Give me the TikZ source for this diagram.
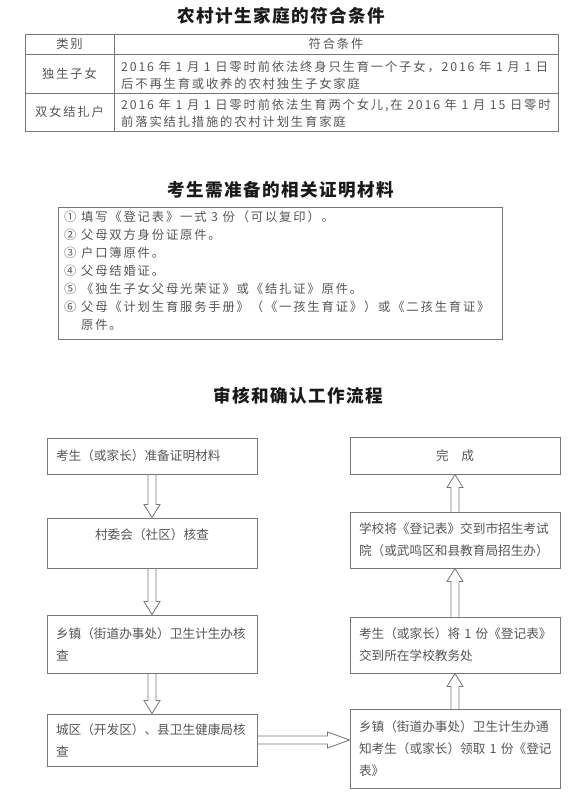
\documentclass[tikz,border=0pt]{standalone}
\usepackage{fontspec}
\setmainfont{Noto Sans CJK SC}
\newfontfamily\spacedcjk[LetterSpace=15]{Noto Sans CJK SC}
\newfontfamily\titlecjk[LetterSpace=8]{Noto Sans CJK SC}
\usepackage{tikz}
\usetikzlibrary{calc}
\definecolor{bodygray}{HTML}{555555}
\definecolor{linegray}{HTML}{767676}
\definecolor{titleblack}{HTML}{1A1A1A}

% hollow block arrow: [head length]{from}{to}
\newcommand{\hollowarrow}[3][0.39cm]{%
  \coordinate (arrowbase) at ($(#3)!#1!(#2)$);
  \draw[flowarrow] ($(#2)!0.12cm!90:(#3)$) -- ($(arrowbase)!0.12cm!90:(#3)$)
    -- ($(arrowbase)!0.24cm!90:(#3)$) -- (#3)
    -- ($(arrowbase)!0.24cm!-90:(#3)$) -- ($(arrowbase)!0.12cm!-90:(#3)$)
    -- ($(#2)!0.12cm!-90:(#3)$);}

\begin{document}
\begin{tikzpicture}[
  title/.style={font=\titlecjk\bfseries\fontsize{15}{18}\selectfont, text=titleblack},
  celltext/.style={font=\spacedcjk\fontsize{10.5}{14.5}\selectfont, text=bodygray, align=left, inner sep=0pt},
  tableline/.style={draw=linegray, line width=0.6pt},
  flowbox/.style={draw=linegray, line width=0.8pt, text width=5.76cm, inner xsep=0.27cm,
    font=\fontsize{10.8}{18.7}\selectfont, text=bodygray},
  leftbox/.style={flowbox, align=left},
  centerbox/.style={flowbox, align=center},
  flowarrow/.style={draw=linegray, line width=0.7pt, line join=miter},
]
\useasboundingbox (0,0) rectangle (17.55,-24.15);

% Table
\node[title] (condtitle) at (8.43,-0.48) {农村计生家庭的符合条件};
\draw[tableline] (0.75,-1.02) rectangle (16.74,-3.93);
\draw[tableline] (0.75,-1.62) -- (16.74,-1.62);
\draw[tableline] (0.75,-2.79) -- (16.74,-2.79);
\draw[tableline] (3.42,-1.02) -- (3.42,-3.93);
\node[celltext] (typehead) at (2.085,-1.32) {类别};
\node[celltext] (condhead) at (10.08,-1.32) {符合条件};
\node[celltext] (onlytype) at (2.085,-2.22) {独生子女};
\node[celltext, anchor=west] (onlycond) at (3.63,-2.25) {2016 年 1 月 1 日零时前依法终身只生育一个子女，2016 年 1 月 1 日\\后不再生育或收养的农村独生子女家庭};
\node[celltext] (twotype) at (2.085,-3.36) {双女结扎户};
\node[celltext, anchor=west] (twocond) at (3.63,-3.40) {2016 年 1 月 1 日零时前依法生育两个女儿,在 2016 年 1 月 15 日零时\\前落实结扎措施的农村计划生育家庭};

% Materials
\node[title] (doctitle) at (8.43,-5.70) {考生需准备的相关证明材料};
\draw[tableline, line width=0.8pt] (1.74,-6.21) rectangle (15.06,-10.17);
\node[celltext, anchor=west, font=\spacedcjk\fontsize{10.5}{15.3}\selectfont] (doclist) at (1.92,-8.13) {%
  ① 填写《登记表》一式 3 份（可以复印）。\\
  ② 父母双方身份证原件。\\
  ③ 户口簿原件。\\
  ④ 父母结婚证。\\
  ⑤ 《独生子女父母光荣证》或《结扎证》原件。\\
  ⑥ 父母《计划生育服务手册》（《一孩生育证》）或《二孩生育证》\\
  \phantom{⑥ }原件。};

% Flow
\node[title] (flowtitle) at (8.94,-11.88) {审核和确认工作流程};
\node[leftbox, minimum height=1.08cm]   (prepare)  at (4.56,-13.68) {考生（或家长）准备证明材料};
\node[centerbox, minimum height=1.5cm, text depth=0.53cm] (village) at (4.56,-16.29) {村委会（社区）核查};
\node[leftbox, minimum height=1.74cm]   (township) at (4.56,-19.32) {乡镇（街道办事处）卫生计生办核\\查};
\node[leftbox, minimum height=1.56cm]   (county)   at (4.56,-22.2) {城区（开发区）、县卫生健康局核\\查};
\node[centerbox, minimum height=1.11cm] (done)     at (13.65,-13.665) {完　成};
\node[leftbox, minimum height=1.68cm]   (school)   at (13.65,-16.2) {学校将《登记表》交到市招生考试\\院（或武鸣区和县教育局招生办）};
\node[leftbox, minimum height=1.68cm]   (submit)   at (13.65,-19.35) {考生（或家长）将~1~份《登记表》\\交到所在学校教务处};
\node[leftbox, minimum height=2.37cm]   (notify)   at (13.65,-22.455) {乡镇（街道办事处）卫生计生办通\\知考生（或家长）领取~1~份《登记\\表》};
\coordinate (notifyin) at (county.east -| notify.west);

\hollowarrow{prepare.south}{village.north}
\hollowarrow{village.south}{township.north}
\hollowarrow{township.south}{county.north}
\hollowarrow[0.66cm]{county.east}{notifyin}
\hollowarrow{notify.north}{submit.south}
\hollowarrow{submit.north}{school.south}
\hollowarrow{school.north}{done.south}
\end{tikzpicture}
\end{document}
